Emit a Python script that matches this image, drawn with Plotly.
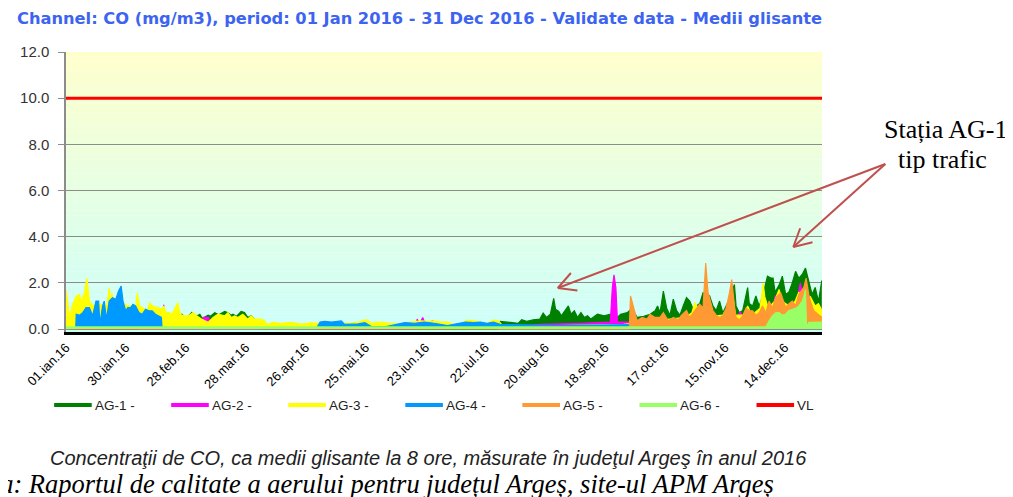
import math
import plotly.graph_objects as go

# ---------------- data (day of year 2016, 0 = 01 Jan) ----------------
tick_days = [0, 29, 58, 87, 116, 145, 174, 203, 232, 261, 290, 319, 348]
tick_labels = ["01.ian.16", "30.ian.16", "28.feb.16", "28.mar.16", "26.apr.16", "25.mai.16",
               "23.iun.16", "22.iul.16", "20.aug.16", "18.sep.16", "17.oct.16", "15.nov.16", "14.dec.16"]

days_ag1 = [0, 35, 36, 37.4, 39, 42, 45, 48, 52, 56.1, 58, 60.9, 62, 64.8, 66, 68.8, 70, 72, 74, 76.8,
            78.4, 80, 80.8, 82.5, 84.8, 86.4, 88, 89.6, 91.2, 92.8, 94,
            209, 210.2, 213.4, 216.6, 219, 220.6, 223, 226.2, 229.4, 231, 232.6, 234.5, 236.1, 237, 238.6,
            239.8, 242.2, 243.2, 244.5, 246.1, 247.7, 249.3, 250.9, 252.5, 254.1, 257.3, 260.5, 263.7, 266.9,
            268.5, 271.7, 274.1, 276.5, 279.7, 282.8, 285.2, 286.4, 287.6, 289.2, 290.8, 292.4, 294.0, 295.6,
            297.2, 298.8, 300.4, 302.0, 303.6, 305.2, 306.8, 308.4, 309.7, 311.6, 313.2, 314.8, 316.4, 318.0,
            319.6, 321.2, 323.6, 324.4, 326, 327.6, 330, 330.8, 332.4, 334, 335.6, 337.2, 339.6, 341.2, 342.3,
            343.3, 345.2, 346.8, 348.4, 350, 351.6, 353.2, 354.8, 356.4, 358, 359.6, 361.2, 362.7, 364.3, 365.9]
co_ag1 = [0, 0, 0.3, 0.79, 0.6, 0.5, 0.45, 0.5, 0.5, 0.64, 0.45, 0.71, 0.5, 0.64, 0.45, 0.6, 0.55, 0.71, 0.62, 0.76,
          0.7, 0.6, 0.64, 0.55, 0.76, 0.71, 0.5, 0.57, 0.43, 0.3, 0,
          0, 0.33, 0.3, 0.29, 0.25, 0.4, 0.33, 0.4, 0.43, 0.69, 0.5, 0.64, 1.33, 0.86, 0.76,
          0.57, 0.9, 1.0, 0.64, 0.79, 0.5, 0.71, 0.5, 0.57, 0.43, 0.64, 0.57, 0.64, 0.5,
          0.64, 0.71, 0.9, 0.5, 0.55, 0.64, 0.79, 1.0, 0.71, 1.64, 0.9, 0.6, 1.29, 0.8,
          0.6, 1.0, 1.36, 1.21, 0.86, 1.0, 1.1, 1.57, 1.5, 1.43, 1.0, 0.8, 1.21, 0.7,
          1.0, 1.3, 1.93, 1.0, 0.7, 0.8, 1.79, 1.1, 1.0, 1.43, 1.0, 1.4, 2.29, 2.21, 2.21,
          1.6, 1.9, 2.29, 1.5, 1.6, 2.0, 2.5, 2.2, 2.36, 2.64, 2.0, 1.5, 1.8, 1.2, 2.1]

days_ag2 = [0, 1, 2, 4, 4.5, 5, 18.5, 19, 19.5, 27.5, 28, 28.5, 46.6, 47.3, 48.0, 65, 66.5, 69, 70.5, 84.3,
            84.8, 85.3, 149.5, 150, 150.5, 169.5, 170, 171, 172.7, 174, 177.5, 179, 215, 230, 250, 263.5,
            264.5, 265.3, 266.2, 267, 300, 325, 326.4, 328, 342, 343.4, 345, 354, 355.5, 357, 366]
co_ag2 = [0.29, 0.1, 0, 0, 0.2, 0, 0, 0.25, 0, 0, 0.7, 0, 0, 1.05, 0, 0, 0.5, 0.5, 0, 0,
          0.25, 0, 0, 0.3, 0, 0, 0.43, 0.2, 0.5, 0.2, 0.35, 0, 0.1, 0.2, 0.25, 0.3,
          1.8, 2.35, 1.8, 0.3, 0.3, 0.5, 0.75, 0.5, 0.8, 1.45, 0.9, 1.2, 2.0, 1.3, 0.8]

days_ag3 = [0, 1.8, 3.0, 4.95, 6.55, 7.35, 8.94, 10.06, 11.34, 12.9, 14.5, 19.8, 20.9, 21.5, 22.2, 23.0, 24.1,
            30, 33.8, 34.5, 35.6, 39.5, 40.4, 41.7, 46.5, 47.3, 48.4, 49.7, 51.3, 52.9, 54.1, 55.3, 56.9, 59.3,
            61.7, 63.2, 65.6, 68.8, 71.2, 73.6, 76.8, 78.4, 80.0, 81.6, 83.2, 85.6, 88.0, 89.6, 91.2, 94.4,
            96.0, 97.6, 100, 104, 108.8, 113.6, 118.4, 123.9, 130.3, 136.7, 141.5, 145.5, 148, 151.2, 154.4,
            157.6, 162.3, 167.1, 171.9, 175.1, 178.3, 181.5, 184.7, 187.9, 191.1, 194.2, 197.4, 200.6, 203.8,
            207, 209.4, 211.8, 240, 270, 300, 303, 304.4, 306, 308, 318, 321.2, 322.8, 324, 328, 330, 332,
            336, 337.5, 338.3, 340, 343, 345.2, 346.8, 350, 353, 354.8, 357, 360.4, 362.7, 364.3, 366]
co_ag3 = [1.7, 0.5, 1.0, 1.43, 1.5, 1.21, 1.57, 2.21, 1.21, 1.0, 1.1, 1.0, 1.79, 1.2, 1.57, 1.1, 1.3,
          1.0, 1.0, 1.57, 1.0, 0.8, 1.14, 1.0, 0.86, 1.0, 0.71, 0.71, 0.64, 0.93, 1.14, 0.64, 0.57, 0.57,
          0.71, 0.57, 0.43, 0.29, 0.5, 0.64, 0.57, 0.71, 0.5, 0.57, 0.5, 0.64, 0.43, 0.57, 0.43, 0.43,
          0.36, 0.19, 0.29, 0.24, 0.29, 0.21, 0.27, 0.25, 0.28, 0.25, 0.3, 0.4, 0.25, 0.3, 0.29,
          0.25, 0.2, 0.3, 0.35, 0.33, 0.35, 0.3, 0.3, 0.2, 0.22, 0.38, 0.35, 0.3, 0.25,
          0.38, 0.35, 0.1, 0.15, 0.2, 0.5, 0.7, 1.14, 0.9, 0.5, 0.6, 1.1, 1.5, 0.6, 0.6, 1.0, 0.6,
          0.9, 2.0, 1.4, 0.9, 1.2, 1.71, 1.2, 1.0, 1.2, 1.6, 1.3, 1.4, 1.0, 1.1, 0.8]

days_ag4 = [0, 4.7, 4.95, 6.55, 8.1, 9.7, 11.3, 12.9, 14.5, 15.8, 16.4, 17.7, 18.5, 19.6, 20.9, 22.5, 24.1,
            25.4, 26.7, 27.6, 28.9, 29.9, 31.3, 32.4, 33.7, 35.3, 36.9, 38.5, 40.1, 41.7, 43.3, 44.9, 46.2,
            46.5, 121, 123, 125.3, 128.5, 131.7, 133.3, 134.9, 141.5, 144.7, 148, 155, 161.5, 164, 168.7,
            173.5, 178.3, 184.7, 193.4, 197.4, 200.6, 203.8, 207, 210.2, 240, 280, 320, 338, 340, 345.2,
            348.4, 351.6, 354.8, 356.4, 357.2, 358, 361.2, 364.3, 365.9]
co_ag4 = [0, 0, 0.64, 0.6, 0.71, 0.93, 0.93, 0.57, 1.21, 1.21, 0.21, 1.0, 1.21, 0.43, 1.21, 1.36, 1.29,
          1.64, 1.86, 1.21, 0.79, 0.93, 0.93, 1.07, 1.0, 0.71, 0.64, 0.86, 0.79, 0.79, 0.64, 0.57, 0.5,
          0, 0, 0.3, 0.33, 0.3, 0.33, 0.35, 0.2, 0.22, 0.28, 0.1, 0.1, 0.25, 0.28, 0.25,
          0.3, 0.25, 0.15, 0.3, 0.28, 0.3, 0.25, 0.3, 0.2, 0.15, 0.2, 0.2, 0.2, 0.3, 0.4,
          0.3, 0.35, 0.3, 0.43, 0.86, 0.3, 0.2, 0.3, 0.2]

days_ag5 = [0, 272.7, 273.3, 274.9, 276.5, 278.9, 281.3, 282.8, 285.2, 287.6, 289.2, 291.6, 294.0, 296.4,
            298, 300.4, 302.0, 303.6, 305.2, 306.8, 308.4, 309.7, 310.8, 311.6, 313.2, 314.8, 316.4, 318,
            319.6, 321.2, 322.3, 323.6, 324.4, 326, 327.6, 329.2, 330.8, 332.4, 334, 335.6, 337.2, 338.8,
            340.4, 342, 343.6, 346, 347.6, 348.4, 350, 351.6, 353.2, 354.8, 357.2, 358.3, 359.6, 360.4,
            362, 364.3, 365.9]
co_ag5 = [0, 0, 1.43, 0.93, 0.36, 0.5, 0.43, 0.64, 0.5, 0.5, 0.71, 0.36, 0.5, 0.4,
          0.6, 0.8, 0.5, 0.7, 0.9, 1.07, 0.9, 2.86, 1.6, 1.36, 0.8, 0.6, 0.5, 0.57,
          0.9, 1.57, 2.14, 1.0, 0.5, 0.4, 0.57, 0.9, 0.8, 0.79, 0.6, 0.7, 1.0, 0.7,
          1.21, 0.9, 1.36, 1.57, 1.2, 0.93, 1.1, 1.21, 1.0, 1.5, 1.8, 2.2, 1.5, 1.21,
          0.79, 0.64, 0.5]

days_ag6 = [0, 338.8, 340.4, 342, 343.6, 345.2, 346.8, 348.4, 350, 351.6, 353.2, 354.8, 356.4, 357.2, 358,
            358.5, 359.6, 361.2, 364.3, 366]
co_ag6 = [0.09, 0.09, 0.36, 0.57, 0.7, 0.71, 0.6, 0.64, 0.8, 0.86, 0.9, 1.0, 1.2, 1.4, 1.7,
          0.1, 0.29, 0.29, 0.3, 0.3]

vl_days = [0, 366]
vl_value = 10.0

series_names = ["AG-1 -", "AG-2 -", "AG-3 -", "AG-4 -", "AG-5 -", "AG-6 -"]
series_colors = ["#008000", "#FF00FF", "#FFFF00", "#0099FF", "#FF9933", "#99FF66"]
series_days = [days_ag1, days_ag2, days_ag3, days_ag4, days_ag5, days_ag6]
series_vals = [co_ag1, co_ag2, co_ag3, co_ag4, co_ag5, co_ag6]
legend_names = series_names + ["VL"]
legend_colors = series_colors + ["#FF0000"]

# ---------------- geometry (page pixels; the page body has an 8px margin) ----------------
OFF = 8
W, H = 1013 - OFF, 497 - OFF
PL, PR, PT, PB = 58, 822, 52, 332          # plot area in page pixels


def px(x):
    return (x - PL) / (PR - PL)


def py(y):
    return (PB - y) / (PB - PT)


fig = go.Figure()

for nm, d, v, c in zip(series_names, series_days, series_vals, series_colors):
    fig.add_trace(go.Scatter(x=d, y=v, mode="lines", line=dict(color=c, width=1.2), name=nm,
                             fill="tozeroy", fillcolor=c, showlegend=False, hoverinfo="skip"))

fig.add_trace(go.Scatter(x=vl_days, y=[vl_value] * len(vl_days), mode="lines",
                         line=dict(color="#FF0000", width=3), name="VL", showlegend=False))

# background gradient (yellow top -> cyan bottom)
shapes = []
n_bands = 60
y0, y1 = -0.13, 12.0
top = (255, 255, 204)
bot = (204, 255, 250)
for i in range(n_bands):
    a = y0 + (y1 - y0) * i / n_bands
    b = y0 + (y1 - y0) * (i + 1) / n_bands
    t = (i + 0.5) / n_bands
    col = tuple(round(bot[k] + (top[k] - bot[k]) * t) for k in range(3))
    shapes.append(dict(type="rect", xref="paper", yref="y", x0=0, x1=1, y0=a, y1=b,
                       fillcolor="rgb(%d,%d,%d)" % col, line=dict(width=0), layer="below"))

# arrows with open V heads
arrow_col = "#C0504D"
tail = (886, 164)
for tip in [(555, 288), (793, 247)]:
    shapes.append(dict(type="line", xref="paper", yref="paper", x0=px(tail[0]), y0=py(tail[1]),
                       x1=px(tip[0]), y1=py(tip[1]), line=dict(color=arrow_col, width=2)))
    dx, dy = tail[0] - tip[0], tail[1] - tip[1]
    L = math.hypot(dx, dy)
    ux, uy = dx / L, dy / L
    for ang in (math.radians(28), math.radians(-28)):
        rx = ux * math.cos(ang) - uy * math.sin(ang)
        ry = ux * math.sin(ang) + uy * math.cos(ang)
        ex, ey = tip[0] + 20 * rx, tip[1] + 20 * ry
        shapes.append(dict(type="line", xref="paper", yref="paper", x0=px(tip[0]), y0=py(tip[1]),
                           x1=px(ex), y1=py(ey), line=dict(color=arrow_col, width=2)))

annotations = [
    dict(text="Stația AG-1", xref="paper", yref="paper", x=px(947), y=py(129), showarrow=False,
         xanchor="center", yanchor="middle", font=dict(family="Liberation Serif", size=26, color="black")),
    dict(text="tip trafic", xref="paper", yref="paper", x=px(944), y=py(159), showarrow=False,
         xanchor="center", yanchor="middle", font=dict(family="Liberation Serif", size=26, color="black")),
    dict(text="<i>Concentraţii de CO, ca medii glisante la 8 ore, măsurate în judeţul Argeş în anul 2016</i>",
         xref="paper", yref="paper", x=px(424), y=py(458), showarrow=False, xanchor="center", yanchor="middle",
         font=dict(family="Liberation Sans", size=20, color="#222222")),
    dict(text="<i>Sursa: Raportul de calitate a aerului pentru județul Argeș, site-ul APM Argeș</i>",
         xref="paper", yref="paper", x=px(776), y=py(484), showarrow=False, xanchor="right", yanchor="middle",
         font=dict(family="Liberation Serif", size=26.5, color="black")),
]

# legend drawn as line keys + labels in one row
leg_y = 405
leg_x0 = 46
leg_step = 118.3
for i, (nm, c) in enumerate(zip(legend_names, legend_colors)):
    xs = leg_x0 + i * leg_step
    shapes.append(dict(type="line", xref="paper", yref="paper", x0=px(xs), x1=px(xs + 38),
                       y0=py(leg_y), y1=py(leg_y), line=dict(color=c, width=4)))
    annotations.append(dict(text=nm, xref="paper", yref="paper", x=px(xs + 39), y=py(leg_y),
                            showarrow=False, xanchor="left", yanchor="middle",
                            font=dict(family="Liberation Sans", size=13.5, color="#222222")))

fig.update_layout(
    width=W, height=H,
    margin=dict(l=PL - OFF, r=W - (PR - OFF), t=PT - OFF, b=H - (PB - OFF), pad=0),
    paper_bgcolor="white",
    plot_bgcolor="rgba(0,0,0,0)",
    title=dict(text="<b>Channel: CO (mg/m3), period: 01 Jan 2016 - 31 Dec 2016 - Validate data - Medii glisante</b>",
               x=(17 - OFF) / W, xanchor="left", xref="container", y=1 - (18 - OFF) / H, yanchor="middle",
               yref="container", font=dict(family="DejaVu Sans", size=16.25, color="#3C64F0")),
    xaxis=dict(range=[0, 366], tickvals=tick_days, ticktext=tick_labels, tickangle=-45,
               showgrid=False, zeroline=False, showline=True, linecolor="black", linewidth=3,
               ticks="", tickfont=dict(family="Liberation Sans", size=13, color="black")),
    yaxis=dict(range=[y0, y1], tickvals=[0, 2, 4, 6, 8, 10, 12], tickformat=".1f",
               showgrid=True, gridcolor="#8c8c8c", gridwidth=1.3, zeroline=False,
               showline=True, linecolor="#8c8c8c", linewidth=1.5, ticks="outside", ticklen=6,
               ticklabelstandoff=6,
               tickcolor="#8c8c8c", tickfont=dict(family="Liberation Sans", size=15, color="#333333")),
    shapes=shapes,
    annotations=annotations,
    showlegend=False,
)

fig.write_html("out.html")
